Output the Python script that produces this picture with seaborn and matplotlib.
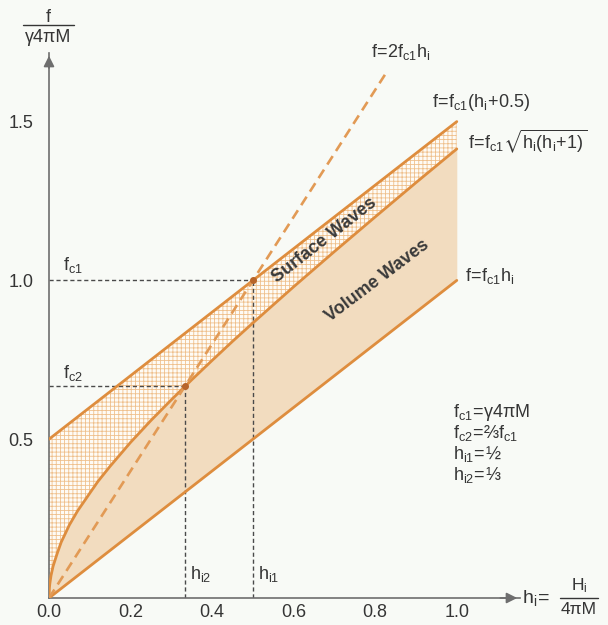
import numpy as np
import pandas as pd
import matplotlib
matplotlib.use("Agg")
import matplotlib.pyplot as plt
from matplotlib.lines import Line2D
import seaborn as sns

# curves: h_i = H_i/4piM  vs  f/(gamma 4piM)
h_lower = [0.0, 1.0]
f_lower = [0.0, 1.0]          # f = fc1 hi
h_upper = [0.0, 1.0]
f_upper = [0.5, 1.5]          # f = fc1 (hi + 0.5)
h_double = [0.0, 0.83]
f_double = [0.0, 1.66]        # f = 2 fc1 hi
h_root = [0.0, 0.001, 0.002, 0.005, 0.01, 0.02, 0.03, 0.05, 0.07, 0.1, 0.12, 0.15, 0.2,
          0.25, 0.3, 0.35, 0.4, 0.45, 0.5, 0.6, 0.7, 0.8, 0.9, 1.0]
f_root = [0.0, 0.032, 0.045, 0.071, 0.10, 0.14, 0.176, 0.23, 0.274, 0.33, 0.367, 0.415, 0.49,
          0.559, 0.624, 0.687, 0.748, 0.808, 0.866, 0.98, 1.091, 1.2, 1.308, 1.414]

crit_h = [0.5, 0.333]         # hi1, hi2
crit_f = [1.0, 0.667]         # fc1, fc2
x_ticks = [0.0, 0.2, 0.4, 0.6, 0.8, 1.0]
y_ticks = [0.5, 1.0, 1.5]

orange = "#de8d3e"
tan = "#f2dcbf"
hatch_col = "#efc08c"
ink = "#353535"
gray = "#6e6e6e"
bg = "#f8faf6"

sns.set_theme(style="white")
plt.rcParams["font.family"] = ["Liberation Sans", "DejaVu Sans"]
plt.rcParams["mathtext.fontset"] = "custom"
plt.rcParams["mathtext.rm"] = "Liberation Sans"
plt.rcParams["mathtext.it"] = "Liberation Sans"
plt.rcParams["mathtext.bf"] = "Liberation Sans:bold"
plt.rcParams["mathtext.fallback"] = "stixsans"
plt.rcParams["hatch.linewidth"] = 0.6

fig = plt.figure(figsize=(6.08, 6.25), dpi=100, facecolor=bg)
ax = fig.add_axes([49/608, 27/625, 471/608, 545/625])
ax.set_facecolor(bg)

# shaded regions
h = np.array(h_root)
lo = np.interp(h, h_lower, f_lower)
hi = np.interp(h, h_upper, f_upper)
ax.fill_between(h, lo, f_root, color=tan, lw=0, zorder=1)
ax.fill_between(h, f_root, hi, facecolor="#fefbf5", edgecolor=hatch_col, hatch="++++", lw=0, zorder=1)

# dashed guides
for hh, ff in zip(crit_h, crit_f):
    ax.plot([0, hh], [ff, ff], color="#4a4a4a", lw=1, ls=(0, (3, 2)), zorder=2)
    ax.plot([hh, hh], [0, ff], color="#4a4a4a", lw=1, ls=(0, (3, 2)), zorder=2)

# curves
sns.lineplot(x=h_lower, y=f_lower, ax=ax, color=orange, lw=2, zorder=3)
sns.lineplot(x=h_upper, y=f_upper, ax=ax, color=orange, lw=2, zorder=3)
sns.lineplot(x=h_root, y=f_root, ax=ax, color=orange, lw=2, zorder=3)
sns.lineplot(x=h_double, y=f_double, ax=ax, color="#e29a55", lw=1.9, linestyle=(0, (3.8, 2.3)), zorder=3)
ax.plot(crit_h, crit_f, "o", color="#b8652a", ms=4, zorder=4)

# axes
ax.set_xlim(0, 1.155)
ax.set_ylim(0, 1.716)
for s in ["top", "right"]:
    ax.spines[s].set_visible(False)
for s in ["left", "bottom"]:
    ax.spines[s].set_color(gray)
    ax.spines[s].set_linewidth(1.2)
ax.set_xticks(x_ticks, [f"{v:.1f}" for v in x_ticks])
ax.set_yticks(y_ticks, [f"{v:.1f}" for v in y_ticks])
ax.tick_params(axis="x", direction="inout", length=7, width=1, color=gray,
               labelsize=13, labelcolor=ink, pad=1)
ax.tick_params(axis="y", direction="out", length=7, width=1, color=gray,
               labelsize=13, labelcolor=ink, pad=4)
ax.set_xlabel("")
ax.set_ylabel("")
ax.annotate("", xy=(1.155, 0), xytext=(1.10, 0), annotation_clip=False,
            arrowprops=dict(arrowstyle="-|>", color=gray, lw=1.2, mutation_scale=16))
ax.annotate("", xy=(0, 1.716), xytext=(0, 1.66), annotation_clip=False,
            arrowprops=dict(arrowstyle="-|>", color=gray, lw=1.2, mutation_scale=16))

# axis titles as fractions
fig.text(48/608, 1 - 17/625, "f", ha="center", va="center", fontsize=13, color=ink)
fig.add_artist(Line2D([23/608, 74/608], [1 - 25/625, 1 - 25/625], color=ink, lw=1))
fig.text(48/608, 1 - 37/625, "γ4πM", ha="center", va="center", fontsize=13, color=ink)
fig.text(522/608, 27/625, r"$\mathregular{h_i\!=}$", ha="left", va="center", fontsize=14, color=ink)
fig.text(579/608, 39/625, r"$\mathregular{H_i}$", ha="center", va="center", fontsize=12.5, color=ink)
fig.add_artist(Line2D([560/608, 598/608], [27/625, 27/625], color=ink, lw=1))
fig.text(579/608, 15/625, "4πM", ha="center", va="center", fontsize=12.5, color=ink)

# curve labels
lbl = dict(fontsize=13, color=ink, ha="left", va="center")
ax.text(0.79, 1.72, r"$\mathregular{f\!=\!2f_{c1}h_i}$", **lbl)
ax.text(0.939, 1.56, r"$\mathregular{f\!=\!f_{c1}(h_i\!+\!0.5)}$", **lbl)
ax.text(1.027, 1.4375, r"$\mathregular{f\!=\!f_{c1}\sqrt{h_i(h_i\!+\!1)}}$", **lbl)
ax.text(1.02, 1.0125, r"$\mathregular{f\!=\!f_{c1}h_i}$", **lbl)

ax.text(0.034, 1.047, r"$\mathregular{f_{c1}}$", **lbl)
ax.text(0.034, 0.709, r"$\mathregular{f_{c2}}$", **lbl)
ax.text(0.345, 0.075, r"$\mathregular{h_{i2}}$", **lbl)
ax.text(0.512, 0.075, r"$\mathregular{h_{i1}}$", **lbl)

ax.text(0.99, 0.584, r"$\mathregular{f_{c1}\!=\!\gamma4\pi M}$", **lbl)
ax.text(0.99, 0.519, r"$\mathregular{f_{c2}\!=\!}$⅔$\mathregular{f_{c1}}$", **lbl)
ax.text(0.99, 0.453, r"$\mathregular{h_{i1}\!=\!}$½", **lbl)
ax.text(0.99, 0.388, r"$\mathregular{h_{i2}\!=\!}$⅓", **lbl)

ax.text(0.676, 1.125, "Surface Waves", rotation=38, ha="center", va="center",
        fontsize=13, fontweight="bold", color="#3a3a3a", rotation_mode="anchor")
ax.text(0.804, 1.0, "Volume Waves", rotation=37, ha="center", va="center",
        fontsize=13, fontweight="bold", color="#3a3a3a", rotation_mode="anchor")

fig.savefig("out.png", dpi=100, facecolor=bg)
